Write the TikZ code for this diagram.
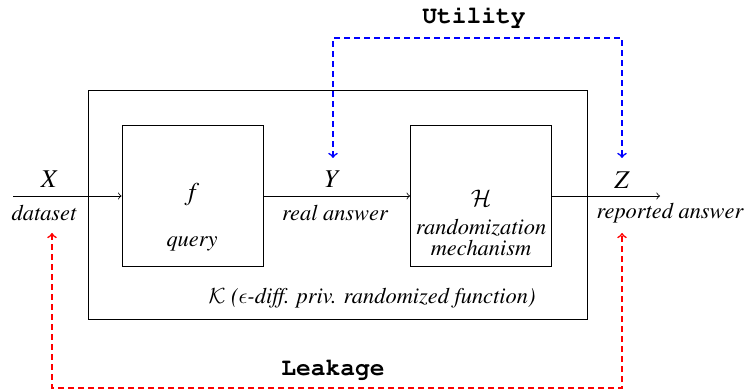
\documentclass[tikz,border=0pt]{standalone}
\usepackage[T1]{fontenc}
\usepackage{mathptmx}
\usepackage{courier}
\DeclareMathAlphabet{\mathcal}{OMS}{cmsy}{m}{n}
\DeclareSymbolFont{cmletters}{OML}{cmm}{m}{it}
\DeclareMathSymbol{\lunateeps}{\mathord}{cmletters}{15}

\tikzset{
  blockbox/.style={draw, minimum width=70.5pt, minimum height=70.5pt, inner sep=0pt},
  lbl/.style={font=\fontsize{11.2}{12.5}\selectfont\itshape, inner sep=0pt, align=center},
  varlbl/.style={font=\fontsize{12.8}{14}\selectfont, inner sep=0pt},
  flowarrow/.style={->},
  utilline/.style={blue, thick, dash pattern=on 3pt off 2pt, <->},
  leakline/.style={red, thick, dash pattern=on 3pt off 2pt, <->},
  titletext/.style={font=\ttfamily\bfseries\fontsize{12.3}{14}\selectfont, inner sep=0pt}
}

\begin{document}
\begin{tikzpicture}[x=0.5pt, y=-0.5pt, font=\fontsize{11.2}{12.5}\selectfont]
\useasboundingbox (0,0) rectangle (744,389);

% outer mechanism K
\node[draw, minimum width=249.5pt, minimum height=114.5pt, inner sep=0pt] (K) at (337.5,204.5) {};
\node[lbl] (Klbl) at (372,298) {$\mathcal{K}$ ($\lunateeps$-diff. priv. randomized function)};

% query and randomization blocks
\node[blockbox] (f) at (192.5,195.5) {};
\node[blockbox] (H) at (481,195.5) {};
\node[varlbl] (fsym) at (192,195) {$f$};
\node[lbl] (fq) at (192,244) {query};
\node[varlbl] (Hsym) at (481,198) {$\mathcal{H}$};
\node[lbl] (Hm) at (481,238) {randomization\\[-2pt]mechanism};

% main flow
\coordinate (in) at (13,196);
\coordinate (out) at (660,196);
\draw[flowarrow] (in) -- (f.west |- in);
\draw[flowarrow] (f.east |- in) -- (H.west |- in);
\draw[flowarrow] (H.east |- in) -- (out);

\node[varlbl] (X) at (50,179) {$X$};
\node[lbl] (Xd) at (44,213) {dataset};
\node[varlbl] (Y) at (333,179) {$Y$};
\node[lbl] (Yd) at (335,213) {real answer};
\node[varlbl] (Z) at (622,180) {$Z$};
\node[lbl] (Zd) at (670,213) {reported answer};

% utility
\coordinate (ua) at (333,158);
\coordinate (ub) at (622,158);
\coordinate (ut) at (477,38);
\draw[utilline] (ua) |- (ut) -| (ub);
\node[titletext] (U) at (474,17) {Utility};

% leakage
\coordinate (la) at (52,233);
\coordinate (lb) at (622,233);
\coordinate (lt) at (337,388);
\draw[leakline] (la) |- (lt) -| (lb);
\node[titletext] (L) at (333,369) {Leakage};
\end{tikzpicture}
\end{document}
